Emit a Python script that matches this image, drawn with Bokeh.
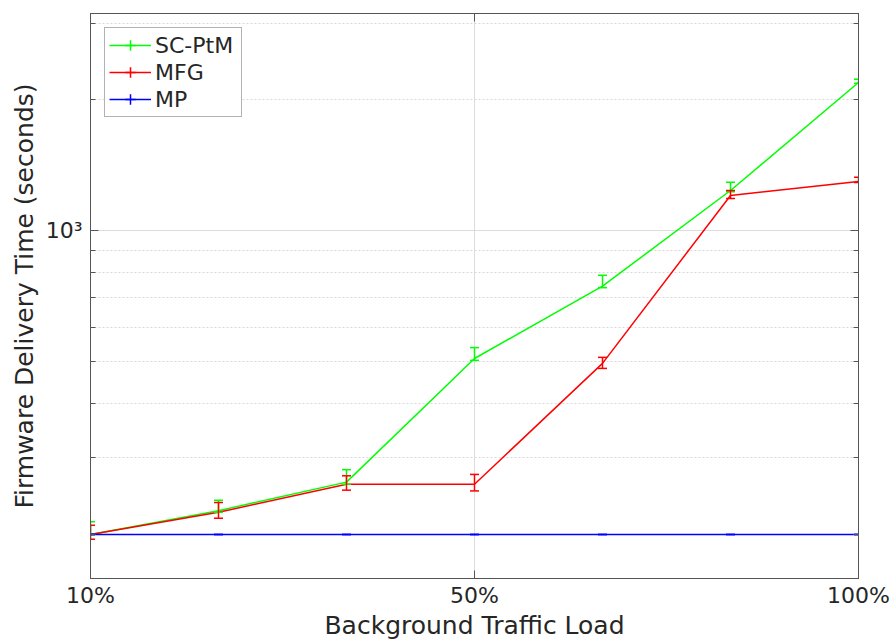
from bokeh.plotting import figure
from bokeh.models import (FixedTicker, LogAxis, LinearAxis, Whisker, TeeHead,
                          ColumnDataSource, Legend, LegendItem, Range1d)
from bokeh.embed import file_html
from bokeh.resources import INLINE

# Background traffic load steps (equally spaced positions) and the labelled ones
load_index = [1, 2, 3, 4, 5, 6, 7]
tick_positions = [1, 4, 7]
tick_labels = ["10%", "50%", "100%"]

# Firmware delivery time (seconds) with lower / upper error amounts
sc_ptm = [200, 227, 264, 508, 745, 1236, 2190]
sc_ptm_lo = [0, 2, 3, 5, 6, 8, 10]
sc_ptm_hi = [14, 13, 18, 30, 44, 55, 37]

mfg = [200, 225, 261, 261, 495, 1204, 1296]
mfg_lo = [5, 7, 8, 9, 13, 19, 7]
mfg_hi = [10, 12, 12, 14, 16, 32, 30]

mp = [200, 200, 200, 200, 200, 200, 200]
mp_lo = [0, 0, 0, 0, 0, 0, 0]
mp_hi = [0, 0, 0, 0, 0, 0, 0]

series = [
    ("SC-PtM", sc_ptm, sc_ptm_lo, sc_ptm_hi, "#00ff00"),
    ("MFG", mfg, mfg_lo, mfg_hi, "#ff0000"),
    ("MP", mp, mp_lo, mp_hi, "#0000ff"),
]

FONT = "DejaVu Sans"
TEXT = "#262626"
AXIS = "#555555"

p = figure(width=893, height=642, y_axis_type="log",
           x_range=Range1d(1, 7), y_range=Range1d(158.5, 3155),
           output_backend="svg", toolbar_location=None,
           min_border_left=90, min_border_right=35,
           min_border_top=13, min_border_bottom=64)
p.background_fill_color = "white"
p.border_fill_color = "white"
p.outline_line_color = AXIS
p.outline_line_width = 1

y_ticker = FixedTicker(ticks=[1000],
                       minor_ticks=[200, 300, 400, 500, 600, 700, 800, 900, 2000, 3000])
x_ticker = FixedTicker(ticks=tick_positions, minor_ticks=[])

# bottom axis
xa = p.xaxis[0]
xa.ticker = x_ticker
xa.major_label_overrides = {k: v for k, v in zip(tick_positions, tick_labels)}
xa.axis_label = "Background Traffic Load"

# left axis
ya = p.yaxis[0]
ya.ticker = y_ticker
ya.major_label_overrides = {1000: "10³"}
ya.axis_label = "Firmware Delivery Time (seconds)"

for ax in (xa, ya):
    ax.axis_line_color = AXIS
    ax.major_tick_line_color = AXIS
    ax.minor_tick_line_color = AXIS
    ax.major_tick_in = 8
    ax.major_tick_out = 0
    ax.minor_tick_in = 5
    ax.minor_tick_out = 0
    ax.major_label_text_font = FONT
    ax.major_label_text_font_size = "22px"
    ax.major_label_text_color = TEXT
    ax.axis_label_text_font = FONT
    ax.axis_label_text_font_size = "25px"
    ax.axis_label_text_font_style = "normal"
    ax.axis_label_text_color = TEXT
    ax.axis_label_standoff = 0
xa.major_label_standoff = 4
xa.axis_label_standoff = 0
ya.major_label_standoff = 8
ya.axis_label_standoff = 4

# mirrored ticks on top and right (no labels)
top_axis = LinearAxis(ticker=x_ticker,
                      major_label_overrides={k: "" for k in tick_positions},
                      major_tick_in=8, major_tick_out=0, minor_tick_in=0, minor_tick_out=0,
                      axis_line_color=AXIS, major_tick_line_color=AXIS,
                      major_label_standoff=0)
right_axis = LogAxis(ticker=y_ticker, major_label_overrides={1000: ""},
                     major_tick_in=8, major_tick_out=0, minor_tick_in=5, minor_tick_out=0,
                     axis_line_color=AXIS, major_tick_line_color=AXIS,
                     minor_tick_line_color=AXIS, major_label_standoff=0)
p.add_layout(top_axis, "above")
p.add_layout(right_axis, "right")

# grids
p.xgrid.ticker = x_ticker
p.ygrid.ticker = y_ticker
p.xgrid.grid_line_color = "#dcdcdc"
p.ygrid.grid_line_color = "#dcdcdc"
p.ygrid.minor_grid_line_color = "#d8d8d8"
p.ygrid.minor_grid_line_dash = "2 2"

items = []
for name, vals, lo, hi, color in series:
    src = ColumnDataSource(dict(
        x=load_index, y=vals,
        lower=[v - a for v, a in zip(vals, lo)],
        upper=[v + b for v, b in zip(vals, hi)],
    ))
    line_r = p.line("x", "y", source=src, line_color=color, line_width=1.5)
    whisk = Whisker(source=src, base="x", lower="lower", upper="upper",
                    dimension="height", line_color=color, line_width=1.5,
                    level="glyph",
                    upper_head=TeeHead(size=9, line_color=color, line_width=1.5),
                    lower_head=TeeHead(size=9, line_color=color, line_width=1.5))
    p.add_layout(whisk)
    # zero-size markers on the points: only their legend swatch (a "+") shows
    bar_r = p.scatter("x", "y", source=src, marker="cross", size=0,
                      line_color=color, line_width=1.5)
    items.append(LegendItem(label=name, renderers=[line_r, bar_r]))

legend = Legend(items=items, location="top_left", margin=14,
                padding=4, spacing=1, glyph_width=42, glyph_height=26,
                label_standoff=4, label_width=82, label_text_font=FONT,
                label_text_font_size="22px", label_text_color=TEXT,
                border_line_color="#666666", border_line_width=1,
                background_fill_color="white", background_fill_alpha=1)
p.add_layout(legend)

open("out.html", "w").write(file_html(p, INLINE))
